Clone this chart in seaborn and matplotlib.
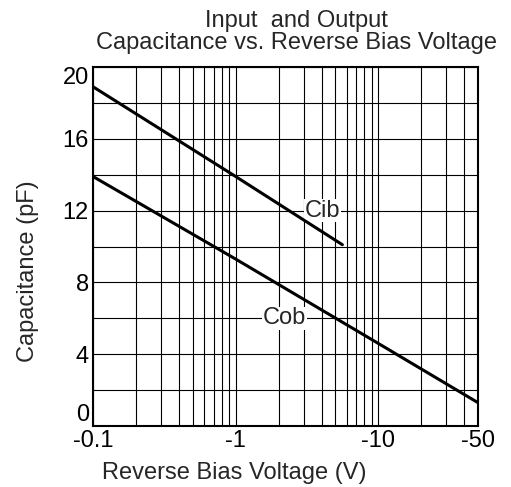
import numpy as np
import pandas as pd
import seaborn as sns
import matplotlib.pyplot as plt
from matplotlib.ticker import LogLocator, FixedLocator, NullFormatter

# --- data (x = |reverse bias| in V, y = pF) ---
cib_v = [0.1, 1.0, 5.6]
cib_c = [18.9, 13.9, 10.1]
cob_v = [0.1, 1.0, 10.0, 50.0]
cob_c = [13.9, 9.3, 4.6, 1.3]

x_ticks = [0.1, 1, 10, 50]
x_ticklabels = ["-0.1", "-1", "-10", "-50"]
y_ticks = [0, 4, 8, 12, 16, 20]

df = pd.concat([
    pd.DataFrame({"v": cib_v, "c": cib_c, "curve": "Cib"}),
    pd.DataFrame({"v": cob_v, "c": cob_c, "curve": "Cob"}),
])

sns.set_style("white")
plt.rcParams["font.family"] = ["Liberation Sans", "DejaVu Sans"]

fig = plt.figure(figsize=(5.11, 4.87), dpi=100)
ax = fig.add_axes([93 / 511, 1 - 426 / 487, 385 / 511, 359 / 487])

sns.lineplot(data=df, x="v", y="c", units="curve", estimator=None,
             color="black", linewidth=2.2, ax=ax, legend=False, zorder=3)

ax.set_xscale("log")
ax.set_xlim(0.1, 50)
ax.set_ylim(0, 20)

# grid: decades + 2..9 subdivisions, horizontal every 2 pF
ax.xaxis.set_major_locator(FixedLocator(x_ticks))
ax.set_xticklabels(x_ticklabels)
ax.xaxis.set_minor_locator(LogLocator(base=10, subs=np.arange(2, 10)))
ax.xaxis.set_minor_formatter(NullFormatter())
ax.set_yticks(y_ticks)
ax.yaxis.set_minor_locator(FixedLocator(np.arange(0, 21, 2)))

ax.grid(which="both", axis="both", color="black", linewidth=0.8)
ax.tick_params(which="both", length=0, labelsize=17, colors="black", pad=3)
for s in ax.spines.values():
    s.set_color("black")
    s.set_linewidth(1.5)

# end labels sit inside the axis range, as in the reference
ylabels = ax.get_yticklabels()
ylabels[0].set_va("bottom")
ylabels[-1].set_va("top")

ax.text(3.05, 12, "Cib", fontsize=17, va="center", ha="left", zorder=1,
        bbox=dict(facecolor="white", edgecolor="none", pad=0.5))
ax.text(1.55, 6, "Cob", fontsize=17, va="center", ha="left", zorder=1,
        bbox=dict(facecolor="white", edgecolor="none", pad=0.5))

ax.set_xlabel("Reverse Bias Voltage (V)", fontsize=17)
ax.set_ylabel("Capacitance (pF)", fontsize=17)
ax.xaxis.set_label_coords(0.366, -0.1)
ax.yaxis.set_label_coords(-0.14, 0.43)

fig.text(296 / 511, 1 - 32 / 487, "Input  and Output\nCapacitance vs. Reverse Bias Voltage",
         ha="center", va="center", fontsize=17, linespacing=1.0)

fig.savefig("out.png", dpi=100)
